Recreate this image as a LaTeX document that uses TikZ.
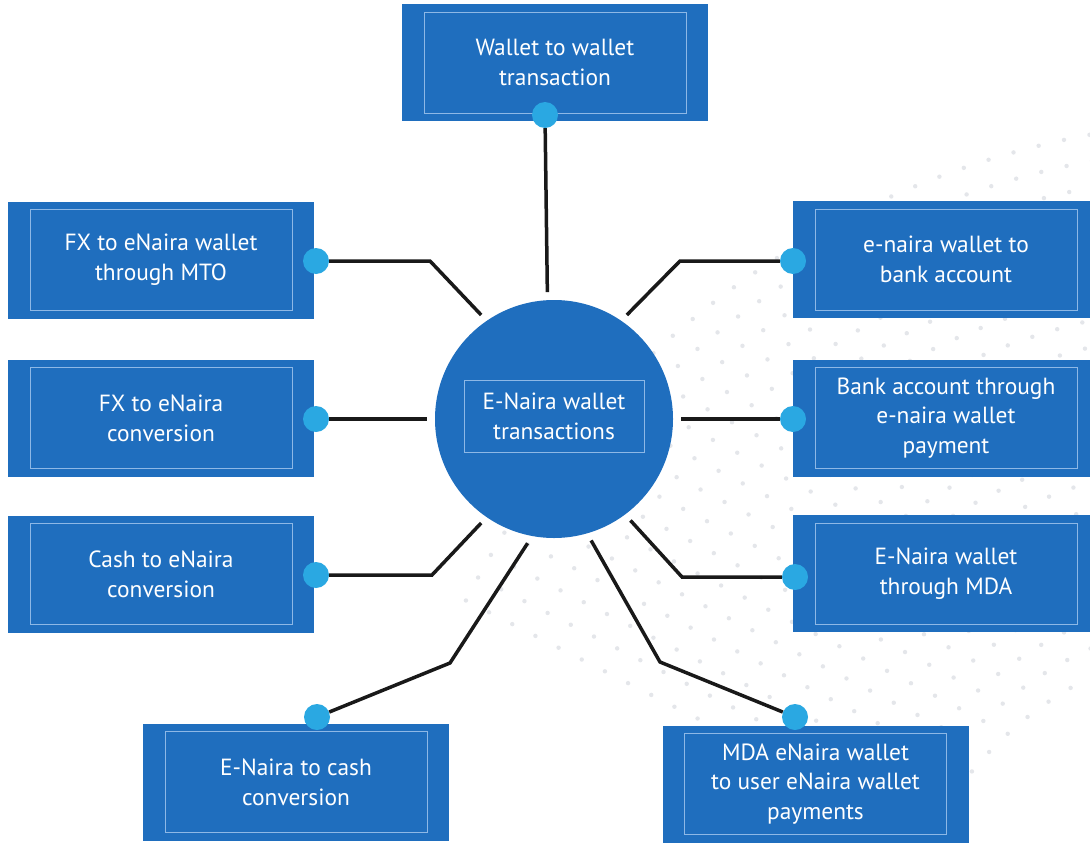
\documentclass[tikz,border=0pt]{standalone}
\usepackage{fontspec}
\setmainfont{PT Sans}
\usetikzlibrary{positioning}
\definecolor{naira}{HTML}{1F6EBE}
\definecolor{knobblue}{HTML}{2AA8E2}
\definecolor{frameblue}{HTML}{8DB8E6}
\definecolor{dotgray}{HTML}{E4E6EA}
\tikzset{
  panel/.style={fill=naira, minimum width=306bp, minimum height=117bp, inner sep=0pt,
    text=white, align=center, font=\fontsize{23.5}{30}\selectfont,
    path picture={\draw[frameblue, line width=0.8bp]
      ([shift={(22bp,8bp)}]path picture bounding box.south west) rectangle
      ([shift={(-22bp,-8bp)}]path picture bounding box.north east);}},
  knob/.style={circle, fill=knobblue, minimum size=26bp, inner sep=0pt},
  wire/.style={line width=3.5bp, black!90},
}
\begin{document}
\begin{tikzpicture}[x=1bp, y=-1bp]
  \useasboundingbox[fill=white] (0,0) rectangle (1090,843);

  % faint dotted backdrop
  \foreach \r in {360,386,...,880} {
    \pgfmathsetmacro\nxt{207+1490/\r}
    \foreach \a in {207,\nxt,...,270}
      \fill[dotgray] (1250,1000) ++(\a:\r) circle (2.2bp);
  }

  % outer panels
  \node[panel] (wallet) at (555,62.5) {Wallet to wallet\\transaction};
  \node[panel] (mto)    at (161,260)  {FX to eNaira wallet\\through MTO};
  \node[panel] (fxconv) at (161,418)  {FX to eNaira\\conversion};
  \node[panel] (cash)   at (161,574)  {Cash to eNaira\\conversion};
  \node[panel] (tocash) at (296,782)  {E-Naira to cash\\conversion};
  \node[panel] (bank)   at (946,259.5) {e-naira wallet to\\bank account};
  \node[panel] (bpay)   at (946,418)  {Bank account through\\e-naira wallet\\payment};
  \node[panel] (mda)    at (946,573.5) {E-Naira wallet\\through MDA};
  \node[panel] (mdapay) at (815.5,784) {MDA eNaira wallet\\to user eNaira wallet\\payments};

  % knobs
  \node[knob] (kwallet) at (545,115) {};
  \node[knob] (kmto)    at (316,261) {};
  \node[knob] (kfx)     at (316,419) {};
  \node[knob] (kcash)   at (316,575) {};
  \node[knob] (ktocash) at (317,717) {};
  \node[knob] (kbank)   at (793,261) {};
  \node[knob] (kbpay)   at (793,419) {};
  \node[knob] (kmda)    at (795,577) {};
  \node[knob] (kmdapay) at (795,717) {};

  % hub
  \node[circle, fill=naira, minimum size=238bp, inner sep=0pt, outer sep=8bp] (hub) at (554,419) {};
  \node[draw=frameblue, line width=0.8bp, minimum width=180bp, minimum height=72bp,
    text=white, align=center, font=\fontsize{23.5}{30}\selectfont] (hubtext) at (554,416)
    {E-Naira wallet\\transactions};

  \draw[wire] (kwallet) -- (hub.93);
  \draw[wire] (kmto) -- (430,261) -- (hub.125);
  \draw[wire] (kfx) -- (hub.180);
  \draw[wire] (kcash) -- (432,575) -- (hub.235);
  \draw[wire] (ktocash) -- (450,663) -- (hub.258);
  \draw[wire] (kbank) -- (680,261) -- (hub.55);
  \draw[wire] (kbpay) -- (hub.0);
  \draw[wire] (kmda) -- (682,577) -- (hub.307);
  \draw[wire] (kmdapay) -- (660,662) -- (hub.287);
\end{tikzpicture}
\end{document}
